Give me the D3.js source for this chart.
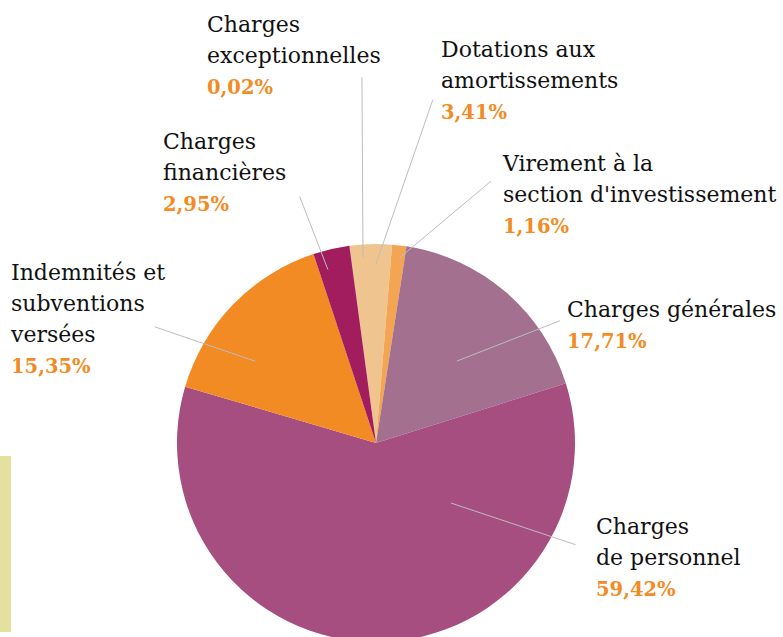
<!DOCTYPE html>
<html>
<head>
<meta charset="utf-8">
<script src="https://cdn.jsdelivr.net/npm/d3@7/dist/d3.min.js"></script>
<style>
  body { margin: 0; background: #fff; }
  svg { display: block; }
  .label, .label tspan { font-family: "DejaVu Serif", "Liberation Serif", serif; }
</style>
</head>
<body>
<div id="chart"></div>
<script>
// slices in clockwise order
var categories = [
  "Charges exceptionnelles",
  "Dotations aux amortissements",
  "Virement à la section d'investissement",
  "Charges générales",
  "Charges de personnel",
  "Indemnités et subventions versées",
  "Charges financières"
];
var values = [0.02, 3.41, 1.16, 17.71, 59.42, 15.35, 2.95];
// how each label is broken over lines
var labelLines = [
  ["Charges", "exceptionnelles"],
  ["Dotations aux", "amortissements"],
  ["Virement à la", "section d'investissement"],
  ["Charges générales"],
  ["Charges", "de personnel"],
  ["Indemnités et", "subventions", "versées"],
  ["Charges", "financières"]
];
var colors = ["#7b2650", "#f0c48f", "#f4a552", "#a3708f", "#a54e7f", "#f38b24", "#a21d5e"];

var width = 783, height = 637;
var cx = 376, cy = 443, radius = 199;
var startDeg = -7.7;

// label text position and leader line (polar: angle deg, radius px) per slice
var labelLayout = [
  { x: 207, y: 32,  inner: [-4.0, 186], outer: [-2.2, 366] },
  { x: 441, y: 57,  inner: [0.0, 179],  outer: [9.4, 348] },
  { x: 503, y: 171, inner: [7.35, 187], outer: [23.7, 286] },
  { x: 567, y: 317, inner: [44.6, 115], outer: [56.4, 221] },
  { x: 596, y: 534, inner: [128.7, 96], outer: [117.0, 224] },
  { x: 11,  y: 280, inner: [-55.9, 146], outer: [-62.3, 250] },
  { x: 163, y: 149, inner: [-15.5, 180], outer: [-17.2, 258] }
];
var lineH = 31;

var fr = d3.formatLocale({ decimal: ",", thousands: " ", grouping: [3], currency: ["", " €"] });
var fmt = fr.format(".2f");
var rad = Math.PI / 180;

var svg = d3.select("#chart").append("svg")
    .attr("width", width)
    .attr("height", height);

// decorative bar bottom left
svg.append("rect")
    .attr("x", 0).attr("y", 456)
    .attr("width", 11).attr("height", 176)
    .attr("fill", "#e3e19d");

var data = categories.map(function(c, i) { return { name: c, value: values[i], i: i }; });

var pie = d3.pie()
    .sort(null)
    .value(function(d) { return d.value; })
    .startAngle(startDeg * rad)
    .endAngle(startDeg * rad + 2 * Math.PI);

var arc = d3.arc().innerRadius(0).outerRadius(radius);

var g = svg.append("g").attr("transform", "translate(" + cx + "," + cy + ")");

g.selectAll(".slice")
    .data(pie(data))
    .enter()
    .append("path")
        .attr("class", "slice")
        .attr("d", arc)
        .attr("fill", function(d) { return colors[d.data.i]; });

// leader lines
g.selectAll(".leader")
    .data(labelLayout)
    .enter()
    .append("line")
        .attr("class", "leader")
        .each(function(d) {
            var a = d3.pointRadial(d.inner[0] * rad, d.inner[1]);
            var b = d3.pointRadial(d.outer[0] * rad, d.outer[1]);
            d3.select(this)
                .attr("x1", a[0]).attr("y1", a[1])
                .attr("x2", b[0]).attr("y2", b[1]);
        })
        .style("stroke", "#bdbdbd")
        .style("stroke-width", 1);

// labels
var lab = svg.selectAll(".label")
    .data(labelLayout)
    .enter()
    .append("text")
        .attr("class", "label")
        .attr("x", function(d) { return d.x; })
        .attr("y", function(d) { return d.y; });

lab.each(function(d, i) {
    var t = d3.select(this);
    labelLines[i].forEach(function(s, k) {
        t.append("tspan")
            .attr("x", d.x)
            .attr("dy", k === 0 ? 0 : lineH)
            .style("font-size", "22px")
            .style("fill", "#111")
            .text(s);
    });
    t.append("tspan")
        .attr("x", d.x)
        .attr("dy", lineH)
        .style("font-size", "19.5px")
        .style("font-weight", "bold")
        .style("fill", "#f38b24")
        .text(fmt(values[i]) + "%");
});
</script>
</body>
</html>
